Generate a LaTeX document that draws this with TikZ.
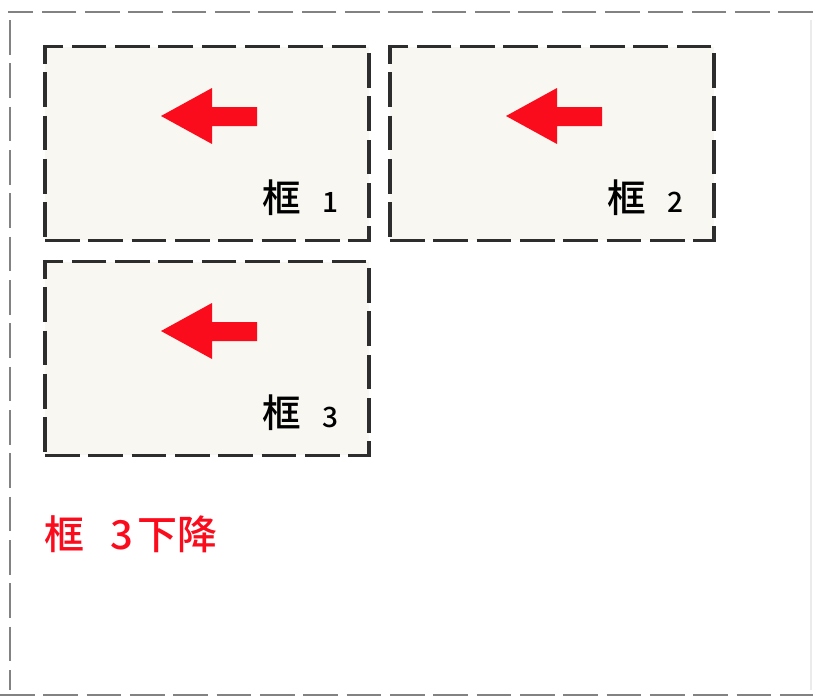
\documentclass[tikz,border=0pt]{standalone}
\usepackage{fontspec}
\newfontfamily\cjk{Noto Sans CJK SC Medium}
\usetikzlibrary{positioning,calc}
\definecolor{boxfill}{RGB}{248,247,241}
\definecolor{framegray}{RGB}{130,130,130}
\definecolor{boxline}{RGB}{45,45,45}
\definecolor{arrowred}{RGB}{250,12,28}
\tikzset{
	longdash/.style={dash pattern=on 26pt off 6.5pt},
	panel/.style={draw=boxline,fill=boxfill,longdash,line width=2.3pt,
		minimum width=243pt,minimum height=145pt,inner sep=0pt},
	tag/.style={font=\cjk,inner sep=0pt,anchor=base west},
}
\newcommand{\bigzi}{\fontsize{29}{29}\selectfont}
\newcommand{\smallnum}{\fontsize{21}{21}\selectfont}

\begin{document}
\begin{tikzpicture}[x=0.75pt,y=-0.75pt]
			\useasboundingbox (0,0) rectangle (813,697);
			% outer frame
			\coordinate (tl) at (10,12);
			\coordinate (tr) at (813,12);
			\coordinate (bl) at (10,695);
			\coordinate (br) at (813,695);
			\draw[framegray,longdash,line width=1.8pt] (tr) -- (8,12);
			\draw[framegray,longdash,line width=1.8pt] (10,20) -- (10,690);
			\draw[framegray,longdash,line width=1.8pt] (0,695) -- (br);
			\draw[black!8,line width=1pt] (811,20) -- (811,690);
			% panels
			\node[panel] (box1) at (207,143.5) {};
			\node[panel] (box2) at (552,143.5) {};
			\node[panel] (box3) at (207,358.5) {};
			\foreach \b/\n in {box1/1,box2/2,box3/3}
			{
				\fill[arrowred,shift={(\b.center)}] (-46,-27.5) -- (5,-55.5) -- (5,-36.5) -- (50,-36.5)
					-- (50,-17.5) -- (5,-17.5) -- (5,0.5) -- cycle;
				\node[tag] (tag\n) at ($(\b.south west)+(219,-29)$) {\bigzi 框\hspace{16pt}\smallnum\n};
			}
			\node[font=\cjk\fontsize{30}{30}\selectfont,text=arrowred,inner sep=0pt,anchor=base west] (drop) at (44,549)
				{框\hspace{20pt}3\hspace{3pt}下降};
		\end{tikzpicture}
\end{document}
